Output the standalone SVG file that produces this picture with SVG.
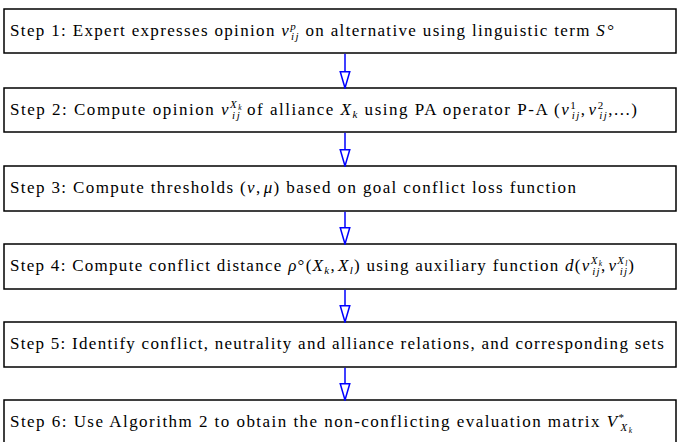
<svg xmlns="http://www.w3.org/2000/svg" width="677" height="442" viewBox="0 0 677 442">
<style>
.box{fill:#fff;stroke:#000;stroke-width:1.5}
text{font-family:"Liberation Serif","Times New Roman",serif;font-size:17px;fill:#000}
.m{font-style:italic}
.s{font-size:11px}
.ss{font-size:7.5px}
.conn line{stroke:#00f;stroke-width:1.5}
</style>
<defs>
<marker id="ah" markerUnits="userSpaceOnUse" markerWidth="18" markerHeight="12" viewBox="0 0 18 12" refX="17" refY="6" orient="auto">
<path d="M0.75,1.25 L17,6 L0.75,10.75 Z" fill="#fff" stroke="#00f" stroke-width="1.5"/>
</marker>
</defs>

<g id="step1">
<rect class="box" x="4" y="9" width="672" height="44"/>
<text x="10" y="36" textLength="604" lengthAdjust="spacing">Step 1: Expert expresses opinion <tspan class="m">v</tspan><tspan class="m s" dy="-6">p</tspan><tspan class="m s" dx="-6" dy="10">ij</tspan><tspan dy="-4"> on alternative using linguistic term </tspan><tspan class="m">S</tspan><tspan dx="1">°</tspan></text>
</g>

<g id="step2">
<rect class="box" x="4" y="88" width="672" height="44"/>
<text x="10" y="115" textLength="627" lengthAdjust="spacing">Step 2: Compute opinion <tspan class="m">v</tspan><tspan class="m s" dy="-7">X</tspan><tspan class="m ss" dy="2">k</tspan><tspan class="m s" dx="-11" dy="9">ij</tspan><tspan dy="-4"> of alliance </tspan><tspan class="m">X</tspan><tspan class="m s" dy="3">k</tspan><tspan dy="-3"> using PA operator P-A (</tspan><tspan class="m">v</tspan><tspan class="s" dy="-6">1</tspan><tspan class="m s" dx="-5.5" dy="10">ij</tspan><tspan dy="-4">,</tspan><tspan class="m" dx="2">v</tspan><tspan class="s" dy="-6">2</tspan><tspan class="m s" dx="-5.5" dy="10">ij</tspan><tspan dy="-4">,...)</tspan></text>
</g>

<g id="step3">
<rect class="box" x="4" y="166" width="672" height="45"/>
<text x="10" y="193" textLength="566" lengthAdjust="spacing">Step 3: Compute thresholds (<tspan class="m">ν</tspan>,<tspan class="m" dx="2">μ</tspan>) based on goal conflict loss function</text>
</g>

<g id="step4">
<rect class="box" x="4" y="244" width="672" height="45"/>
<text x="10" y="271" textLength="624" lengthAdjust="spacing">Step 4: Compute conflict distance <tspan class="m">ρ</tspan>°(<tspan class="m">X</tspan><tspan class="m s" dy="3">k</tspan><tspan dy="-3">,</tspan><tspan class="m" dx="2">X</tspan><tspan class="m s" dy="3">l</tspan><tspan dy="-3">) using auxiliary function </tspan><tspan class="m">d</tspan>(<tspan class="m">v</tspan><tspan class="m s" dy="-7">X</tspan><tspan class="m ss" dy="2">k</tspan><tspan class="m s" dx="-11" dy="9">ij</tspan><tspan dy="-4">,</tspan><tspan class="m" dx="2">v</tspan><tspan class="m s" dy="-7">X</tspan><tspan class="m ss" dy="2">l</tspan><tspan class="m s" dx="-9" dy="9">ij</tspan><tspan dy="-4">)</tspan></text>
</g>

<g id="step5">
<rect class="box" x="4" y="322" width="672" height="45"/>
<text x="10" y="349" textLength="654" lengthAdjust="spacing">Step 5: Identify conflict, neutrality and alliance relations, and corresponding sets</text>
</g>

<g id="step6">
<rect class="box" x="4" y="400" width="672" height="50"/>
<text x="10" y="427" textLength="622" lengthAdjust="spacing">Step 6: Use Algorithm 2 to obtain the non-conflicting evaluation matrix <tspan class="m">V</tspan><tspan class="s" dy="-6">*</tspan><tspan class="m s" dx="-5" dy="10">X</tspan><tspan class="m ss" dy="2">k</tspan></text>
</g>

<g id="connectors" class="conn">
<line x1="345" y1="53.75" x2="345" y2="88" marker-end="url(#ah)"/>
<line x1="345" y1="132.75" x2="345" y2="166" marker-end="url(#ah)"/>
<line x1="345" y1="211.75" x2="345" y2="244" marker-end="url(#ah)"/>
<line x1="345" y1="289.75" x2="345" y2="322" marker-end="url(#ah)"/>
<line x1="345" y1="367.75" x2="345" y2="400" marker-end="url(#ah)"/>
</g>
</svg>
